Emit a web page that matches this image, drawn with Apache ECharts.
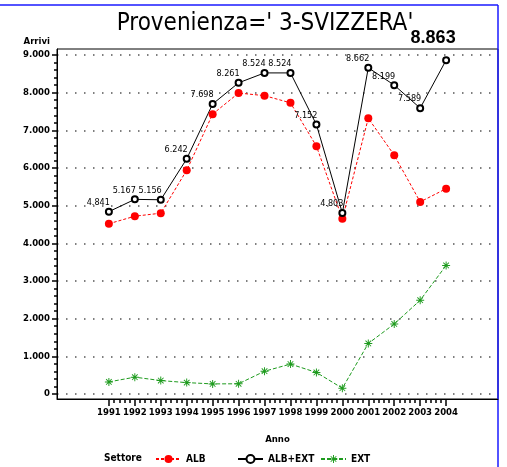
<!DOCTYPE html>
<html>
<head>
<meta charset="utf-8">
<title>Provenienza 3-SVIZZERA</title>
<script src="https://cdn.jsdelivr.net/npm/echarts@6/dist/echarts.min.js"></script>
<style>
  html, body { margin: 0; padding: 0; background: #fff; }
  #main { width: 507px; height: 467px; }
</style>
</head>
<body>
<div id="main"></div>
<script>
// anni e valori (Arrivi)
var anni = [1991, 1992, 1993, 1994, 1995, 1996, 1997, 1998, 1999, 2000, 2001, 2002, 2003, 2004];
var alb = [4520, 4720, 4800, 5940, 7430, 7990, 7920, 7730, 6580, 4650, 7320, 6340, 5100, 5450];
var albExt = [4841, 5167, 5156, 6242, 7698, 8261, 8524, 8524, 7152, 4803, 8662, 8199, 7589, 8863];
var ext = [321, 447, 356, 302, 268, 271, 604, 794, 572, 153, 1342, 1859, 2489, 3413];

var NARROW = "'Liberation Sans Narrow', 'DejaVu Sans Condensed', sans-serif";

// la cornice va da 1989 a 2006, gli anni veri da 1991 a 2004
var X_MIN = 1989, X_MAX = 2006;
var PLOT_L = 57, PLOT_R = 9;
var pxPerYear = (507 - PLOT_L - PLOT_R) / (X_MAX - X_MIN);

function fmt(v) {
    // separatore delle migliaia all'italiana
    return String(v).replace(/\B(?=(\d{3})+(?!\d))/g, '.');
}

function pairs(vals) {
    var out = [];
    for (var i = 0; i < anni.length; i++) {
        out.push([anni[i], vals[i]]);
    }
    return out;
}

var albExtData = pairs(albExt).map(function (p, i) {
    if (i === anni.length - 1) {
        return {
            value: p,
            label: {
                fontSize: 18,
                fontWeight: 'bold',
                fontFamily: "'Liberation Sans', Arial, sans-serif",
                align: 'center',
                offset: [-13, -22]
            }
        };
    }
    return p;
});

var asterisk = 'path://M-0.6,-5L0.6,-5L0.6,5L-0.6,5Z M-5,-0.6L5,-0.6L5,0.6L-5,0.6Z M-3.9,-3.1L-3.1,-3.9L3.9,3.1L3.1,3.9Z M3.1,-3.9L3.9,-3.1L-3.1,3.9L-3.9,3.1Z';

var axisFont = { fontFamily: NARROW, fontSize: 9.5, fontWeight: 'bold', color: '#000' };
var legendText = { fontFamily: NARROW, fontSize: 10, fontWeight: 'bold', color: '#000' };
var tickLine = { color: '#000', width: 1.5 };

function legendAt(left, name) {
    return {
        left: left,
        top: 449,
        itemWidth: 25,
        itemHeight: 10,
        textStyle: legendText,
        data: [name]
    };
}

var option = {
    animation: false,
    backgroundColor: '#fff',
    title: {
        text: "Provenienza=' 3-SVIZZERA'",
        left: 260,
        top: 7,
        textAlign: 'center',
        textStyle: {
            fontFamily: NARROW,
            fontSize: 24,
            fontWeight: 'normal',
            color: '#000'
        }
    },
    grid: [
        // 0: cornice e serie
        { left: PLOT_L, right: PLOT_R, top: 49, bottom: 68, show: true, borderColor: '#000', borderWidth: 1 },
        // 1: scala verticale 0-9000
        { left: PLOT_L, right: PLOT_R, top: 55, bottom: 73 },
        // 2: scala orizzontale 1991-2004
        { left: PLOT_L + 2 * pxPerYear, right: PLOT_R + 2 * pxPerYear, top: 49, bottom: 68 }
    ],
    legend: [
        legendAt(150, 'ALB'),
        legendAt(232, 'ALB+EXT'),
        legendAt(315, 'EXT')
    ],
    graphic: [
        {
            type: 'text', left: 104, top: 453,
            style: { text: 'Settore', font: 'bold 10px ' + NARROW, fill: '#000' }
        },
        {
            type: 'line', shape: { x1: 0, y1: 5, x2: 498, y2: 5 },
            style: { stroke: '#1a1aff', lineWidth: 1.5 }
        },
        {
            type: 'line', shape: { x1: 498, y1: 5, x2: 498, y2: 467 },
            style: { stroke: '#1a1aff', lineWidth: 1.5 }
        }
    ],
    xAxis: [
        {
            gridIndex: 0,
            type: 'value',
            min: X_MIN,
            max: X_MAX,
            name: 'Anno',
            nameLocation: 'middle',
            nameGap: 36,
            nameTextStyle: axisFont,
            axisLine: { show: true, onZero: false, lineStyle: { color: '#000', width: 1 } },
            axisTick: { show: false },
            axisLabel: { show: false },
            splitLine: { show: false }
        },
        {
            gridIndex: 1,
            type: 'value',
            min: X_MIN,
            max: X_MAX,
            show: false
        },
        {
            gridIndex: 2,
            type: 'value',
            min: anni[0],
            max: anni[anni.length - 1],
            interval: 1,
            // la linea serve perche' le tacche vengano disegnate
            axisLine: { show: true, onZero: false, lineStyle: { color: '#000', width: 1 } },
            axisTick: { show: true, inside: false, length: 7, lineStyle: tickLine },
            minorTick: { show: true, splitNumber: 5, length: 4, lineStyle: tickLine },
            axisLabel: Object.assign({
                margin: 9,
                formatter: function (v) { return String(v); }
            }, axisFont),
            splitLine: { show: false }
        }
    ],
    yAxis: [
        {
            gridIndex: 0,
            type: 'value',
            min: -133,
            max: 9159,
            name: 'Arrivi',
            nameLocation: 'end',
            nameGap: 2,
            nameTextStyle: Object.assign({ align: 'right', padding: [0, 7, 0, 0] }, axisFont),
            axisLine: { show: true, onZero: false, lineStyle: { color: '#000', width: 1 } },
            axisTick: { show: false },
            axisLabel: { show: false },
            splitLine: { show: false }
        },
        {
            gridIndex: 1,
            type: 'value',
            min: 0,
            max: 9000,
            interval: 1000,
            axisLine: { show: true, onZero: false, lineStyle: { color: '#000', width: 1 } },
            axisTick: { show: true, length: 5, lineStyle: tickLine },
            minorTick: { show: true, splitNumber: 5, length: 3, lineStyle: tickLine },
            axisLabel: Object.assign({
                margin: 7,
                formatter: function (v) { return fmt(v); }
            }, axisFont),
            splitLine: {
                show: true,
                lineStyle: { color: '#555', width: 1.5, type: [1.5, 7.5] }
            }
        },
        {
            gridIndex: 2,
            type: 'value',
            min: 0,
            max: 9000,
            show: false
        }
    ],
    series: [
        {
            name: 'ALB',
            type: 'line',
            data: pairs(alb),
            symbol: 'circle',
            symbolSize: 8,
            itemStyle: { color: '#ff0000' },
            lineStyle: { color: '#ff0000', width: 1, type: [3, 2] }
        },
        {
            name: 'ALB+EXT',
            type: 'line',
            data: albExtData,
            symbol: 'emptyCircle',
            symbolSize: 6,
            itemStyle: { color: '#000', borderColor: '#000', borderWidth: 1 },
            lineStyle: { color: '#000', width: 1 },
            label: {
                show: true,
                position: 'inside',
                align: 'right',
                verticalAlign: 'middle',
                offset: [1, -9],
                formatter: function (p) { return fmt(p.value[1]); },
                fontFamily: NARROW,
                fontSize: 9,
                color: '#000'
            }
        },
        {
            name: 'EXT',
            type: 'line',
            data: pairs(ext),
            symbol: asterisk,
            symbolSize: 8,
            itemStyle: { color: '#1e9b1e' },
            lineStyle: { color: '#1e9b1e', width: 1, type: [4, 2] }
        }
    ]
};

var chart = echarts.init(document.getElementById('main'));
chart.setOption(option);
</script>
</body>
</html>
